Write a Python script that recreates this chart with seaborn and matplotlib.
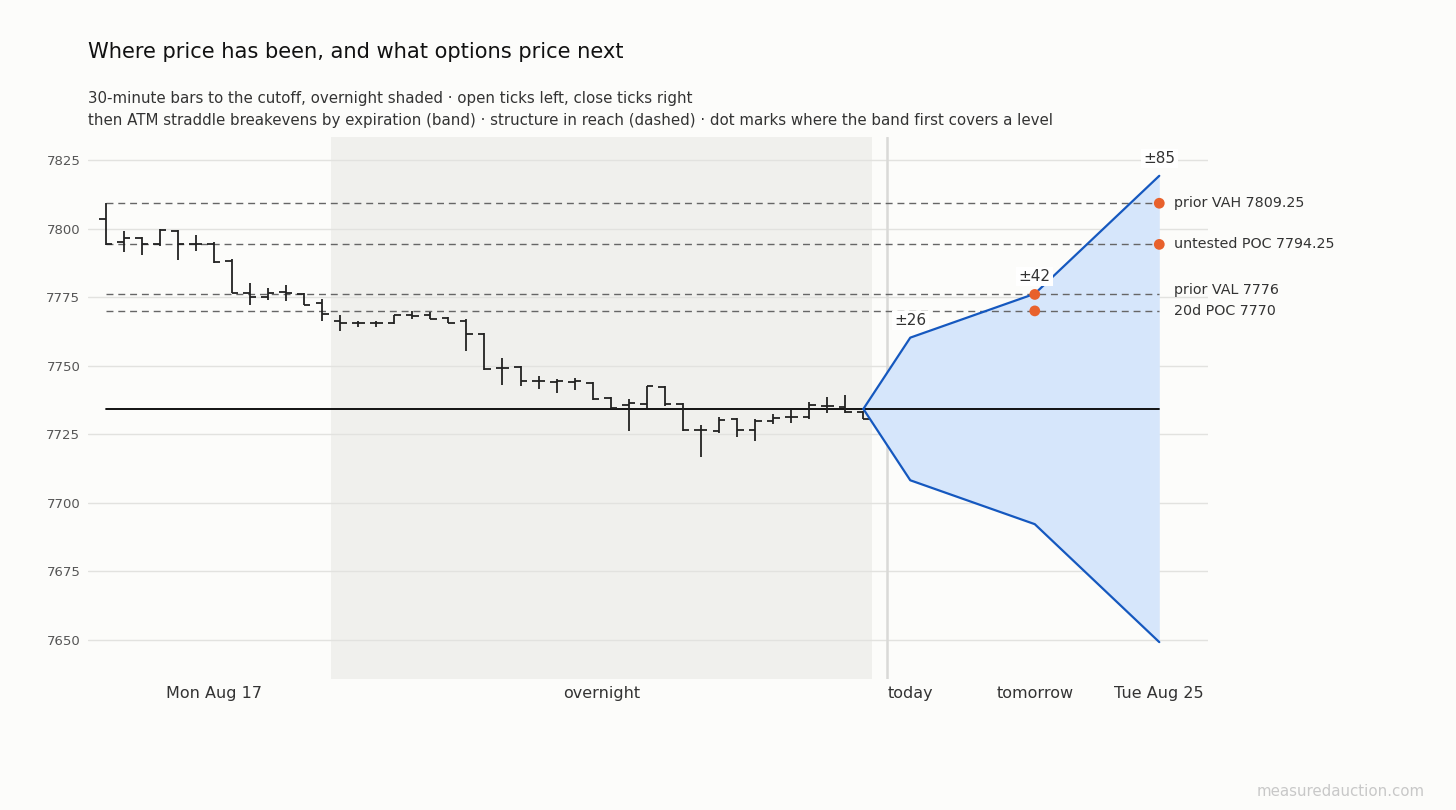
import numpy as np
import pandas as pd
import matplotlib
matplotlib.use("Agg")
import matplotlib.pyplot as plt
import seaborn as sns

# 30-minute OHLC bars up to the cutoff
opens = [7803.5, 7795, 7796.5, 7794.25, 7799.25, 7794.5, 7794.5, 7788.25, 7776.5, 7775.25,
         7777, 7776.25, 7773, 7766.5, 7765.5, 7765.5, 7765.5, 7768.5, 7768.5, 7767.25,
         7766.5, 7761.75, 7749.25, 7749.5, 7744.5, 7744.25, 7744.25, 7743.75, 7738.25, 7735.75,
         7736, 7742.25, 7736, 7726.75, 7726.25, 7730.5, 7726.5, 7729.75, 7731.25, 7731.5,
         7735.5, 7735, 7733]
highs = [7809.5, 7799, 7797, 7800, 7799.5, 7797.5, 7795, 7789, 7780, 7778.5,
         7779.5, 7776.5, 7774.5, 7768.5, 7766.5, 7766.5, 7768.5, 7770, 7769.5, 7767.75,
         7767, 7762, 7753, 7749.75, 7746.25, 7745, 7745.5, 7744, 7738.5, 7738,
         7742.5, 7742.5, 7736.25, 7728.5, 7731.5, 7731, 7730.5, 7732.5, 7734, 7736.75,
         7738.75, 7739.25, 7733.5]
lows = [7794, 7791.5, 7790.5, 7793.5, 7788.5, 7792, 7787.5, 7776.5, 7772, 7774,
        7773.5, 7772, 7766.5, 7762.5, 7764, 7764, 7765.25, 7767, 7767, 7765.5,
        7755.5, 7748.5, 7743, 7742.5, 7741.5, 7740, 7741, 7737.5, 7734.5, 7726.25,
        7734.5, 7735.5, 7726.25, 7716.75, 7725.5, 7724, 7722.75, 7728.75, 7729.25, 7730.75,
        7732.75, 7732.75, 7730.75]
closes = [7794.25, 7796.5, 7794.25, 7799.5, 7794.5, 7794.5, 7788, 7776.5, 7775, 7776.5,
          7776.5, 7772, 7769, 7765.75, 7765.5, 7765.5, 7768.5, 7768, 7767, 7765.75,
          7761.75, 7748.75, 7749.25, 7744.5, 7744.5, 7744.5, 7744.5, 7738, 7734.75, 7736.25,
          7742.5, 7736, 7726.5, 7726.5, 7730.25, 7726.5, 7729.75, 7731, 7731.5, 7735.75,
          7735.5, 7733, 7730.75]

# ATM straddle breakevens by expiration
spot = 7734.25
expiries = ["today", "tomorrow", "Tue Aug 25"]
straddle_moves = [26, 42, 85]

# structure levels in reach
level_names = ["prior VAH", "untested POC", "prior VAL", "20d POC"]
level_prices = [7809.25, 7794.25, 7776, 7770]

session_labels = ["Mon Aug 17", "overnight"]

bars = pd.DataFrame({"open": opens, "high": highs, "low": lows, "close": closes})
bars["x"] = np.arange(len(bars))
n = len(bars)
last = n - 1

# x layout (bar units)
overnight_start = 12.5
overnight_end = last + 0.5
cutoff_x = last + 1.3
exp_x = [last + 2.6, last + 9.5, last + 16.4]
band = pd.DataFrame({
    "x": [last] + exp_x,
    "upper": [spot] + [spot + m for m in straddle_moves],
    "lower": [spot] + [spot - m for m in straddle_moves],
})

bg = "#fcfcfa"
sns.set_theme(style="white")
plt.rcParams["font.family"] = ["DejaVu Sans"]

fig = plt.figure(figsize=(14.56, 8.10), dpi=100, facecolor=bg)
ax = fig.add_axes([88 / 1456, 1 - 679 / 810, (1208 - 88) / 1456, (679 - 137) / 810])
ax.set_facecolor(bg)

ax.set_xlim(-0.97, 61.1)
ax.set_ylim(7635.8, 7833.4)
ax.set_yticks(np.arange(7650, 7826, 25))
ax.yaxis.grid(True, color="#e2e2df", lw=1.0, zorder=0)
ax.xaxis.grid(False)
for s in ax.spines.values():
    s.set_visible(False)
ax.tick_params(axis="y", length=0, labelsize=9.5, labelcolor="#555555", pad=5.5)
ax.tick_params(axis="x", length=0, labelsize=11.5, labelcolor="#333333", pad=5)

# overnight shading and cutoff line
ax.axvspan(overnight_start, overnight_end, color="#f0f0ed", zorder=0.5, lw=0)
ax.axvline(cutoff_x, color="#d9d9d7", lw=1.8, zorder=1)

# straddle band
ax.fill_between(band["x"], band["lower"], band["upper"], color="#d6e6fb", lw=0, zorder=1.5)
sns.lineplot(data=band, x="x", y="upper", ax=ax, color="#1558bf", lw=1.6, zorder=4)
sns.lineplot(data=band, x="x", y="lower", ax=ax, color="#1558bf", lw=1.6, zorder=4)

# structure levels
for p in level_prices:
    ax.plot([0, exp_x[-1]], [p, p], color="#666666", lw=1.0, ls=(0, (5, 3.5)), zorder=2)

# spot line
ax.plot([0, exp_x[-1]], [spot, spot], color="black", lw=1.3, zorder=3)

# OHLC bars
tick = 0.36
ax.vlines(bars["x"], bars["low"], bars["high"], color="#222222", lw=1.3, zorder=3)
ax.hlines(bars["open"], bars["x"] - tick, bars["x"], color="#222222", lw=1.3, zorder=3)
ax.hlines(bars["close"], bars["x"], bars["x"] + tick, color="#222222", lw=1.3, zorder=3)

# dot where the band first covers each level
hit_x = []
for p in level_prices:
    for xe, m in zip(exp_x, straddle_moves):
        if abs(p - spot) <= m:
            hit_x.append(xe)
            break
dots = pd.DataFrame({"x": hit_x, "y": level_prices})
sns.scatterplot(data=dots, x="x", y="y", ax=ax, color="#e8612c", s=60,
                edgecolor="none", zorder=5, legend=False)

# level labels at the right, nudged apart when they crowd
label_y = list(level_prices)
order = np.argsort(label_y)
min_gap = 7.5
for a, b in zip(order[:-1], order[1:]):
    if label_y[b] - label_y[a] < min_gap:
        label_y[b] = label_y[a] + min_gap
for name, p, ly in zip(level_names, level_prices, label_y):
    val = f"{p:g}" if p == int(p) else f"{p:.2f}"
    ax.text(exp_x[-1] + 0.8, ly, f"{name} {val}", fontsize=10.3, color="#333333",
            va="center", ha="left", clip_on=False)

# move labels
for xe, m in zip(exp_x, straddle_moves):
    ax.annotate(f"\u00b1{m}", (xe, spot + m), xytext=(0, 7), textcoords="offset points",
                ha="center", va="bottom", fontsize=11, color="#333333", zorder=6,
                bbox=dict(boxstyle="square,pad=0.15", fc="white", ec="none"))

ax.set_xticks([6, (overnight_start + overnight_end) / 2] + exp_x)
ax.set_xticklabels(session_labels + expiries)
ax.set_xlabel("")
ax.set_ylabel("")

fig.text(88 / 1456, 1 - 52 / 810, "Where price has been, and what options price next",
         fontsize=15.1, color="#111111", va="center", ha="left")
fig.text(88 / 1456, 1 - 99 / 810,
         "30-minute bars to the cutoff, overnight shaded \u00b7 open ticks left, close ticks right",
         fontsize=10.8, color="#333333", va="center", ha="left")
fig.text(88 / 1456, 1 - 121 / 810,
         "then ATM straddle breakevens by expiration (band) \u00b7 structure in reach (dashed) \u00b7 "
         "dot marks where the band first covers a level",
         fontsize=10.8, color="#333333", va="center", ha="left")
fig.text(1425 / 1456, 1 - 791 / 810, "measuredauction.com", fontsize=10.8, color="#c8c8c8",
         va="center", ha="right")

fig.savefig("out.png", dpi=100, facecolor=bg)
